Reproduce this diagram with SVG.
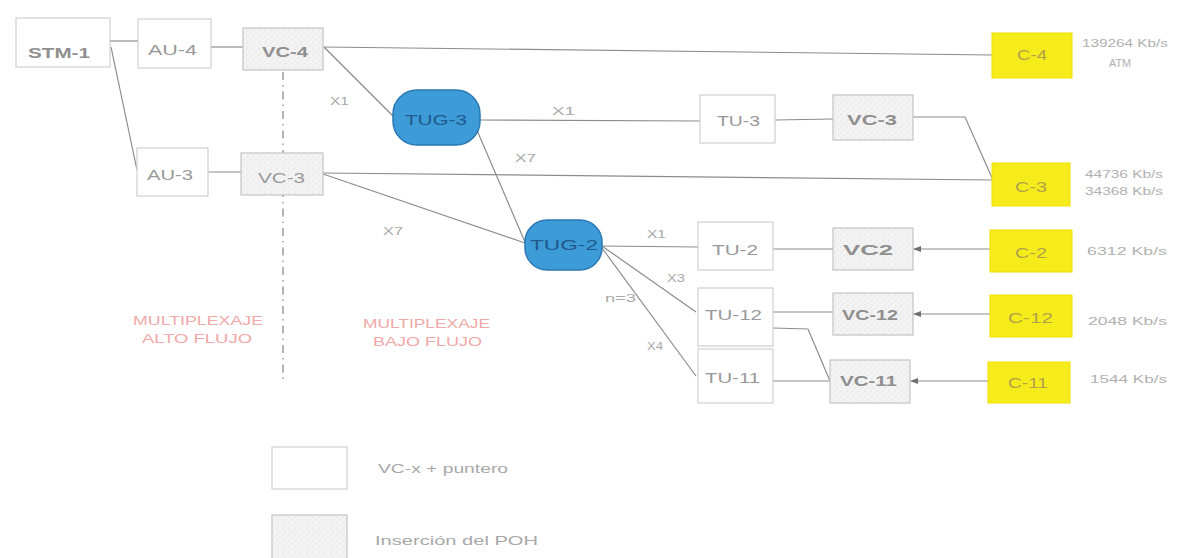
<svg xmlns="http://www.w3.org/2000/svg" width="1180" height="558" viewBox="0 0 1180 558">
<style>
.box{fill:#ffffff;stroke:#cfcfcf;stroke-width:1.2}
.poh{fill:url(#speck);stroke:#c4c4c4;stroke-width:1.2}
.cbox{fill:#f6ec1c;stroke:#f0e000;stroke-width:1}
.tug{fill:#3d9bd8;stroke:#2a78b4;stroke-width:1.5}
text{font-family:"Liberation Sans",Arial,sans-serif}
.lbl{font-size:15px;fill:#999999}
.bold{font-weight:bold;fill:#8f8f8f}
.clbl{font-size:14px;fill:#b0a248}
.tlbl{font-size:14px;fill:#1e5a8c}
.sm{font-size:11px;fill:#a8a8a8}
.rate{font-size:11px;fill:#b0b0b0}
.leg{font-size:13px;fill:#a8a8a8}
.red{font-size:12px;fill:#f0a8a8}
.ln{stroke:#8c8c8c;stroke-width:1.2;fill:none}
</style>
<defs>
<pattern id="speck" width="6" height="6" patternUnits="userSpaceOnUse">
<rect width="6" height="6" fill="#f3f3f3"/>
<circle cx="1" cy="1" r="0.6" fill="#d8d8d8"/>
<circle cx="4" cy="3.5" r="0.6" fill="#dcdcdc"/>
<circle cx="2" cy="5" r="0.5" fill="#e2d8d8"/>
</pattern>
<marker id="arr" markerWidth="8" markerHeight="8" refX="7" refY="4" orient="auto" markerUnits="userSpaceOnUse">
<path d="M0,1 L8,4 L0,7 Z" fill="#707070"/>
</marker>
</defs>
<rect width="1180" height="558" fill="#ffffff"/>

<g id="connectors">
<line class="ln" x1="110" y1="41" x2="138" y2="41"/>
<line class="ln" x1="111" y1="47" x2="137" y2="170"/>
<line class="ln" x1="211" y1="47" x2="243" y2="47"/>
<line class="ln" x1="208" y1="172" x2="241" y2="172"/>
<line class="ln" x1="324" y1="47" x2="992" y2="55"/>
<line class="ln" x1="324" y1="47" x2="394" y2="117"/>
<line class="ln" x1="480" y1="120" x2="700" y2="121"/>
<line class="ln" x1="775" y1="120" x2="833" y2="119"/>
<polyline class="ln" points="913,117 965,117 993,180"/>
<line class="ln" x1="323" y1="173" x2="992" y2="180"/>
<line class="ln" x1="476" y1="128" x2="525" y2="242"/>
<line class="ln" x1="323" y1="174" x2="525" y2="243"/>
<line class="ln" x1="602" y1="246" x2="698" y2="247"/>
<line class="ln" x1="773" y1="249" x2="833" y2="249"/>
<line class="ln" x1="602" y1="246" x2="696" y2="312"/>
<line class="ln" x1="602" y1="248" x2="696" y2="376"/>
<line class="ln" x1="773" y1="312" x2="833" y2="312"/>
<polyline class="ln" points="773,328 808,329 830,381"/>
<line class="ln" x1="773" y1="381" x2="830" y2="381"/>
<line class="ln" x1="990" y1="249" x2="914" y2="249" marker-end="url(#arr)"/>
<line class="ln" x1="990" y1="314" x2="914" y2="314" marker-end="url(#arr)"/>
<line class="ln" x1="988" y1="381" x2="911" y2="381" marker-end="url(#arr)"/>
<line x1="283" y1="72" x2="283" y2="380" stroke="#8c8c8c" stroke-width="1.3" stroke-dasharray="8,5,1.5,5"/>
</g>

<g id="labels">
<text class="sm" x="330" y="105" textLength="19" lengthAdjust="spacingAndGlyphs">X1</text>
<text class="sm" x="552" y="115" textLength="23" lengthAdjust="spacingAndGlyphs">X1</text>
<text class="sm" x="515" y="162" textLength="21" lengthAdjust="spacingAndGlyphs">X7</text>
<text class="sm" x="383" y="235" textLength="20" lengthAdjust="spacingAndGlyphs">X7</text>
<text class="sm" x="647" y="238" textLength="19" lengthAdjust="spacingAndGlyphs">X1</text>
<text class="sm" x="667" y="282" textLength="18" lengthAdjust="spacingAndGlyphs">X3</text>
<text class="sm" x="605" y="302" textLength="31" lengthAdjust="spacingAndGlyphs">n=3</text>
<text class="sm" x="647" y="350" textLength="16" lengthAdjust="spacingAndGlyphs">X4</text>
<text class="red" x="133" y="325" textLength="130" lengthAdjust="spacingAndGlyphs">MULTIPLEXAJE</text>
<text class="red" x="142" y="343" textLength="110" lengthAdjust="spacingAndGlyphs">ALTO FLUJO</text>
<text class="red" x="363" y="328" textLength="127" lengthAdjust="spacingAndGlyphs">MULTIPLEXAJE</text>
<text class="red" x="373" y="346" textLength="109" lengthAdjust="spacingAndGlyphs">BAJO FLUJO</text>
</g>

<g id="stm1"><rect class="box" x="16" y="18" width="94" height="49"/><text class="lbl bold" x="28" y="58" textLength="62" lengthAdjust="spacingAndGlyphs">STM-1</text></g>
<g id="au4"><rect class="box" x="138" y="19" width="73" height="49"/><text class="lbl" x="148" y="55" textLength="49" lengthAdjust="spacingAndGlyphs">AU-4</text></g>
<g id="vc4"><rect class="poh" x="243" y="28" width="80" height="42"/><text class="lbl bold" x="262" y="57" textLength="46" lengthAdjust="spacingAndGlyphs">VC-4</text></g>
<g id="au3"><rect class="box" x="137" y="148" width="71" height="48"/><text class="lbl" x="147" y="180" textLength="46" lengthAdjust="spacingAndGlyphs">AU-3</text></g>
<g id="vc3a"><rect class="poh" x="241" y="153" width="82" height="42"/><text class="lbl" x="258" y="183" textLength="47" lengthAdjust="spacingAndGlyphs">VC-3</text></g>
<g id="tug3"><rect class="tug" x="393" y="90" width="87" height="55" rx="24"/><text class="tlbl" x="405" y="125" textLength="62" lengthAdjust="spacingAndGlyphs">TUG-3</text></g>
<g id="tu3"><rect class="box" x="700" y="95" width="75" height="48"/><text class="lbl" x="717" y="126" textLength="43" lengthAdjust="spacingAndGlyphs">TU-3</text></g>
<g id="vc3b"><rect class="poh" x="833" y="95" width="80" height="45"/><text class="lbl bold" x="847" y="125" textLength="50" lengthAdjust="spacingAndGlyphs">VC-3</text></g>
<g id="tug2"><rect class="tug" x="525" y="220" width="77" height="50" rx="22"/><text class="tlbl" x="530" y="250" textLength="68" lengthAdjust="spacingAndGlyphs">TUG-2</text></g>
<g id="tu2"><rect class="box" x="698" y="222" width="75" height="48"/><text class="lbl" x="712" y="255" textLength="46" lengthAdjust="spacingAndGlyphs">TU-2</text></g>
<g id="vc2"><rect class="poh" x="833" y="228" width="80" height="42"/><text class="lbl bold" x="843" y="255" textLength="50" lengthAdjust="spacingAndGlyphs">VC2</text></g>
<g id="tu12"><rect class="box" x="698" y="288" width="75" height="58"/><text class="lbl" x="705" y="320" textLength="57" lengthAdjust="spacingAndGlyphs">TU-12</text></g>
<g id="tu11"><rect class="box" x="698" y="349" width="75" height="54"/><text class="lbl" x="705" y="383" textLength="55" lengthAdjust="spacingAndGlyphs">TU-11</text></g>
<g id="vc12"><rect class="poh" x="833" y="293" width="80" height="42"/><text class="lbl bold" x="842" y="320" textLength="56" lengthAdjust="spacingAndGlyphs">VC-12</text></g>
<g id="vc11"><rect class="poh" x="830" y="360" width="80" height="43"/><text class="lbl bold" x="840" y="386" textLength="57" lengthAdjust="spacingAndGlyphs">VC-11</text></g>
<g id="c4"><rect class="cbox" x="992" y="33" width="80" height="45"/><text class="clbl" x="1017" y="60" textLength="30" lengthAdjust="spacingAndGlyphs">C-4</text><text class="rate" x="1082" y="47" textLength="86" lengthAdjust="spacingAndGlyphs">139264 Kb/s</text><text class="rate" x="1109" y="67" textLength="22" lengthAdjust="spacingAndGlyphs">ATM</text></g>
<g id="c3"><rect class="cbox" x="992" y="163" width="78" height="43"/><text class="clbl" x="1015" y="192" textLength="32" lengthAdjust="spacingAndGlyphs">C-3</text><text class="rate" x="1085" y="178" textLength="78" lengthAdjust="spacingAndGlyphs">44736 Kb/s</text><text class="rate" x="1085" y="195" textLength="78" lengthAdjust="spacingAndGlyphs">34368 Kb/s</text></g>
<g id="c2"><rect class="cbox" x="990" y="230" width="82" height="42"/><text class="clbl" x="1015" y="258" textLength="32" lengthAdjust="spacingAndGlyphs">C-2</text><text class="rate" x="1087" y="255" textLength="80" lengthAdjust="spacingAndGlyphs">6312 Kb/s</text></g>
<g id="c12"><rect class="cbox" x="990" y="295" width="82" height="42"/><text class="clbl" x="1008" y="323" textLength="45" lengthAdjust="spacingAndGlyphs">C-12</text><text class="rate" x="1088" y="325" textLength="79" lengthAdjust="spacingAndGlyphs">2048 Kb/s</text></g>
<g id="c11"><rect class="cbox" x="988" y="362" width="82" height="41"/><text class="clbl" x="1008" y="388" textLength="40" lengthAdjust="spacingAndGlyphs">C-11</text><text class="rate" x="1090" y="383" textLength="77" lengthAdjust="spacingAndGlyphs">1544 Kb/s</text></g>

<g id="legend">
<rect class="box" x="272" y="447" width="75" height="42"/>
<text class="leg" x="378" y="473" textLength="130" lengthAdjust="spacingAndGlyphs">VC-x  + puntero</text>
<rect class="poh" x="272" y="515" width="75" height="45"/>
<text class="leg" x="375" y="545" textLength="163" lengthAdjust="spacingAndGlyphs">Inserción del POH</text>
</g>
</svg>
